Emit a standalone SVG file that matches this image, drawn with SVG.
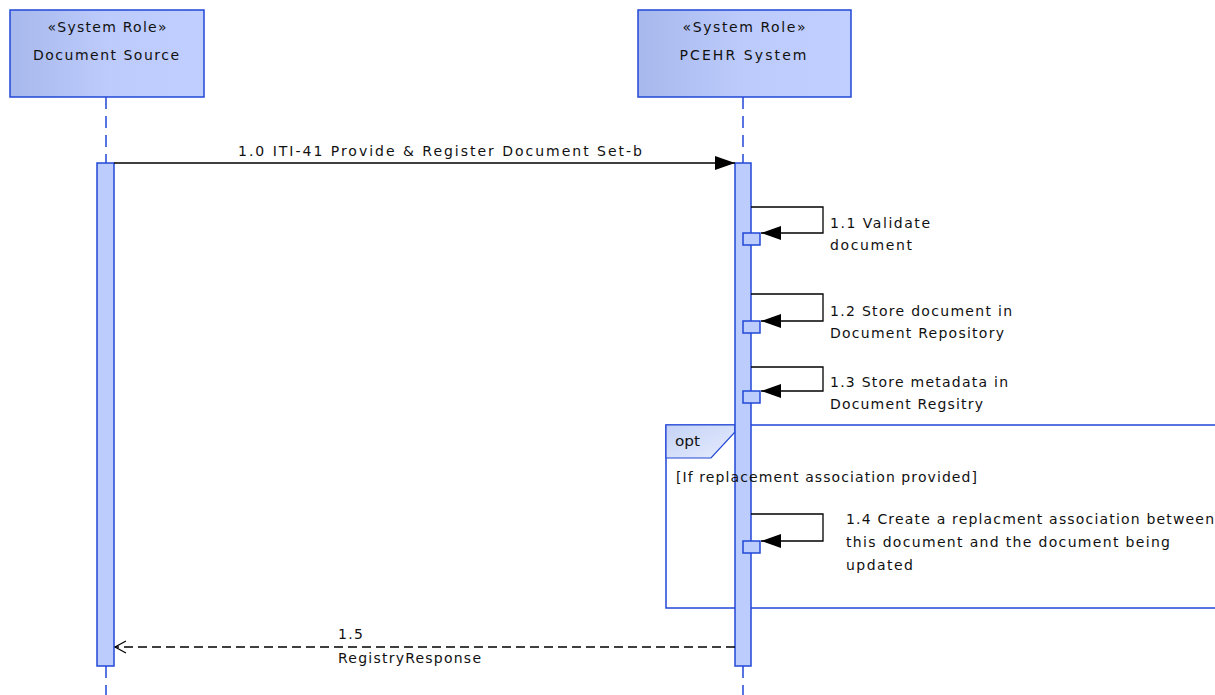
<svg xmlns="http://www.w3.org/2000/svg" width="1215" height="695" viewBox="0 0 1215 695">
<defs>
<linearGradient id="nodeGrad" x1="0" y1="0" x2="1" y2="0">
<stop offset="0" stop-color="#a7b8ec"/>
<stop offset="0.5" stop-color="#bccbfb"/>
<stop offset="1" stop-color="#c0cfff"/>
</linearGradient>
<linearGradient id="tabGrad" x1="0" y1="0" x2="1" y2="1">
<stop offset="0" stop-color="#c4d2f6"/>
<stop offset="1" stop-color="#e6ecfd"/>
</linearGradient>
<marker id="filled" markerWidth="22" markerHeight="16" refX="21" refY="8" orient="auto" markerUnits="userSpaceOnUse">
<path d="M1,1 L21,8 L1,15 Z" fill="#000"/>
</marker>
<marker id="open" markerWidth="14" markerHeight="14" refX="12" refY="7" orient="auto" markerUnits="userSpaceOnUse">
<path d="M1,1 L12,7 L1,13" fill="none" stroke="#000" stroke-width="1.2"/>
</marker>
</defs>
<style>
.node{fill:url(#nodeGrad);stroke:#2247d6;stroke-width:1.5}
.life{stroke:#2247d6;stroke-width:1.5;stroke-dasharray:12,7;fill:none}
.act{fill:#bccdfd;stroke:#2247d6;stroke-width:1.5}
.msg{stroke:#000;stroke-width:1.3;fill:none}
.ret{stroke:#000;stroke-width:1.3;fill:none;stroke-dasharray:9,5}
text{font-family:"DejaVu Sans","Liberation Sans",sans-serif;font-size:14px;fill:#111}
.c{text-anchor:middle}
.frame{fill:none;stroke:#2247d6;stroke-width:1.5}
</style>
<rect width="1215" height="695" fill="#fff"/>

<g id="lifelines">
<line class="life" x1="106" y1="97" x2="106" y2="163"/>
<line class="life" x1="106" y1="666" x2="106" y2="695"/>
<line class="life" x1="743" y1="97" x2="743" y2="163"/>
<line class="life" x1="743" y1="666" x2="743" y2="695"/>
</g>

<g id="opt-frame">
<rect class="frame" x="666" y="425" width="560" height="183"/>
<path d="M666,425 L735,425 L735,432 L711,458 L666,458 Z" fill="url(#tabGrad)" stroke="#2247d6" stroke-width="1.2"/>
<text x="675" y="446" textLength="25" lengthAdjust="spacingAndGlyphs">opt</text>
</g>

<g id="node-document-source">
<rect class="node" x="10" y="10" width="194" height="87"/>
<text class="c" x="107" y="32" textLength="119" lengthAdjust="spacing">«System Role»</text>
<text class="c" x="106" y="60" textLength="146" lengthAdjust="spacing">Document Source</text>
<rect class="act" x="97" y="163" width="17" height="503"/>
</g>

<g id="node-pcehr-system">
<rect class="node" x="638" y="10" width="213" height="87"/>
<text class="c" x="744" y="32" textLength="123" lengthAdjust="spacing">«System Role»</text>
<text class="c" x="743" y="60" textLength="127" lengthAdjust="spacing">PCEHR System</text>
<rect class="act" x="735" y="163" width="16" height="503"/>
<rect class="act" x="743" y="233" width="17" height="12"/>
<rect class="act" x="743" y="321" width="17" height="12"/>
<rect class="act" x="743" y="391" width="17" height="12"/>
<rect class="act" x="743" y="541" width="17" height="12"/>
</g>

<text x="676" y="482" textLength="301" lengthAdjust="spacing">[If replacement association provided]</text>

<g id="connectors">
<line class="msg" x1="114" y1="163" x2="735" y2="163" marker-end="url(#filled)"/>
<polyline class="msg" points="751,207 823,207 823,233 761,233" marker-end="url(#filled)"/>
<polyline class="msg" points="751,294 823,294 823,321 761,321" marker-end="url(#filled)"/>
<polyline class="msg" points="751,367 823,367 823,391 761,391" marker-end="url(#filled)"/>
<polyline class="msg" points="751,514 823,514 823,541 761,541" marker-end="url(#filled)"/>
<line class="ret" x1="735" y1="647" x2="115" y2="647" marker-end="url(#open)"/>
</g>

<g id="labels">
<text x="238" y="156" textLength="404" lengthAdjust="spacing">1.0 ITI-41 Provide &amp; Register Document Set-b</text>
<text x="830" y="228" textLength="100" lengthAdjust="spacing">1.1 Validate</text>
<text x="830" y="250" textLength="82" lengthAdjust="spacing">document</text>
<text x="830" y="316" textLength="182" lengthAdjust="spacing">1.2 Store document in</text>
<text x="830" y="338" textLength="174" lengthAdjust="spacing">Document Repository</text>
<text x="830" y="387" textLength="178" lengthAdjust="spacing">1.3 Store metadata in</text>
<text x="830" y="409" textLength="153" lengthAdjust="spacing">Document Regsitry</text>
<text x="846" y="524" textLength="368" lengthAdjust="spacing">1.4 Create a replacment association between</text>
<text x="846" y="547" textLength="324" lengthAdjust="spacing">this document and the document being</text>
<text x="846" y="570" textLength="67" lengthAdjust="spacing">updated</text>
<text x="338" y="639" textLength="25" lengthAdjust="spacing">1.5</text>
<text x="338" y="663" textLength="143" lengthAdjust="spacing">RegistryResponse</text>
</g>
</svg>
